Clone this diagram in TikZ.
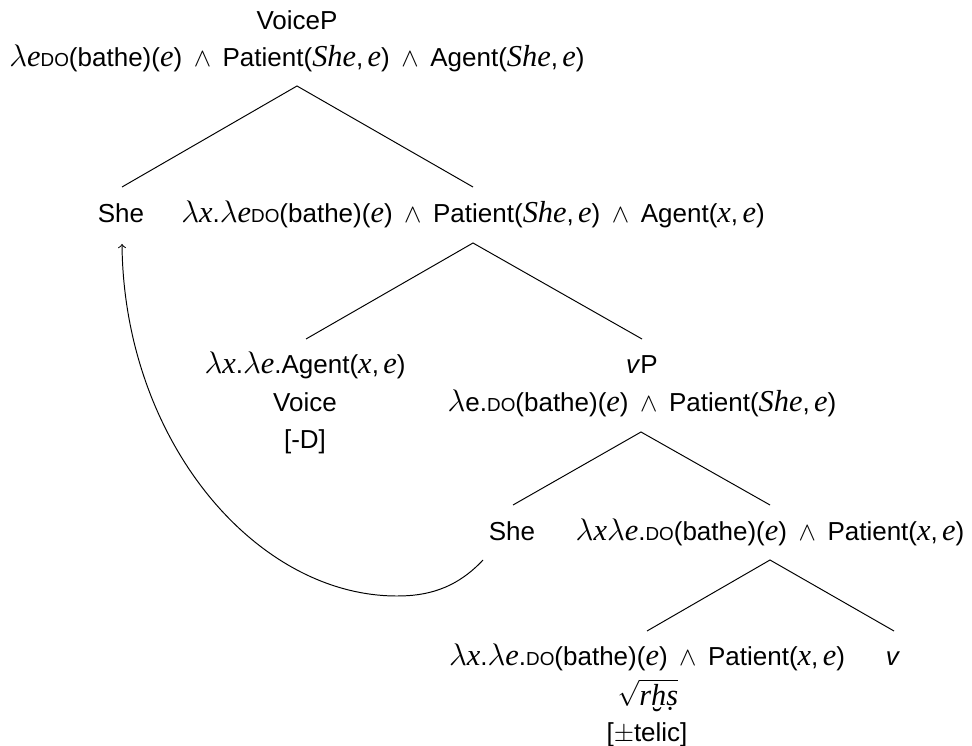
\documentclass[tikz,border=0pt]{standalone}
\usepackage{fontspec}
\setmainfont{Liberation Sans}
\newfontfamily\serifit{Liberation Serif}[Scale=1.17]
% italic serif for variables and names inside formulas
\newcommand\mv[1]{{\serifit\itshape #1}}
\newcommand\lam{{\fontsize{13.8pt}{14pt}\selectfont$\lambda$}}
\newcommand\conj{$\,\wedge\,$}
\newcommand\pair[2]{(\mv{#1},\,\mv{#2})}
% faked small capitals for the DO operator
\newcommand\smdo{{\fontsize{8.7pt}{10pt}\selectfont DO}}
% root symbol whose radical ignores the marks below the letters
\newcommand\rootof[1]{$\sqrt{\vphantom{\hbox{\mv{h}}}\smash{\hbox{#1}}}$}
\begin{document}
\begin{tikzpicture}[x=0.4615pt,y=-0.4615pt,
  lbl/.style={anchor=base,inner sep=0pt,font=\fontsize{12pt}{14pt}\selectfont},
  branch/.style={line width=0.45pt},
  movement/.style={line width=0.45pt,->}]
\useasboundingbox (0,0) rectangle (972,746);

% ---- VoiceP
\node[lbl] (voicep-cat) at (297,30) {VoiceP};
\node[lbl] (voicep-sem) at (297,67) {\lam\mv{e}\smdo(bathe)(\mv{e}) \conj{} Patient\pair{She}{e} \conj{} Agent\pair{She}{e}};

% ---- She / Voice'
\node[lbl] (she-high) at (121,223) {She};
\node[lbl] (voicebar-sem) at (473,223) {\lam\mv{x}.\lam\mv{e}\smdo(bathe)(\mv{e}) \conj{} Patient\pair{She}{e} \conj{} Agent\pair{x}{e}};

% ---- Voice head
\node[lbl] (voice-sem) at (305,374) {\lam\mv{x}.\lam\mv{e}.Agent\pair{x}{e}};
\node[lbl] (voice-cat) at (305,411) {Voice};
\node[lbl] (voice-feat) at (305,448) {[-D]};

% ---- vP
\node[lbl] (vp-cat) at (642,374) {\textit{v}P};
\node[lbl] (vp-sem) at (642,411) {\lam e.\smdo(bathe)(\mv{e}) \conj{} Patient\pair{She}{e}};

% ---- She / v'
\node[lbl] (she-low) at (512,540) {She};
\node[lbl] (vbar-sem) at (770,540) {\lam\mv{x}\lam\mv{e}.\smdo(bathe)(\mv{e}) \conj{} Patient\pair{x}{e}};

% ---- root and v
\node[lbl] (root-sem) at (647,665) {\lam\mv{x}.\lam\mv{e}.\smdo(bathe)(\mv{e}) \conj{} Patient\pair{x}{e}};
\node[lbl] (root-cat) at (648,705) {\rootof{\mv{rḫṣ}}};
\node[lbl] (root-feat) at (647,741) {[$\pm$telic]};
\node[lbl] (v-head) at (893,665) {\textit{v}};

% ---- branch points
\coordinate (b1) at (297,86);  \coordinate (b1l) at (122,187); \coordinate (b1r) at (473,187);
\coordinate (b2) at (473,243); \coordinate (b2l) at (306,339); \coordinate (b2r) at (642,339);
\coordinate (b3) at (641,432); \coordinate (b3l) at (513,505); \coordinate (b3r) at (770,505);
\coordinate (b4) at (770,560); \coordinate (b4l) at (647,631); \coordinate (b4r) at (894,631);

\draw[branch] (b1l) -- (b1) -- (b1r);
\draw[branch] (b2l) -- (b2) -- (b2r);
\draw[branch] (b3l) -- (b3) -- (b3r);
\draw[branch] (b4l) -- (b4) -- (b4r);

% ---- movement arrow from the lower She to the higher She
\coordinate (mv-start) at (483,560);
\coordinate (mv-low) at (397,596);
\coordinate (mv-end) at (122,244);
\draw[movement] (mv-start) .. controls (455,590) and (425,596) .. (mv-low)
  .. controls (255,596) and (124,440) .. (mv-end);
\end{tikzpicture}
\end{document}
